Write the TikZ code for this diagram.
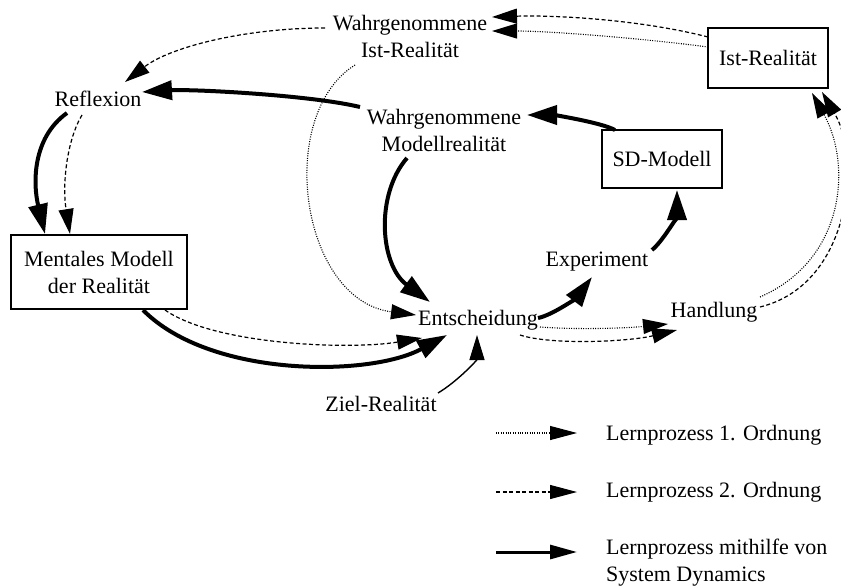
\documentclass[tikz,border=0pt]{standalone}
\usepackage{fontspec}
\setmainfont{Liberation Serif}
\usetikzlibrary{arrows.meta,calc}
\tikzset{
  lbl/.style={font=\fontsize{22}{27}\selectfont, align=center, inner sep=1pt},
  box/.style={lbl, draw, line width=1.2pt, inner sep=0pt},
  thickarr/.style={line width=4pt, -{Triangle[length=30pt,width=19pt]}},
  dasharr/.style={line width=1.2pt, dash pattern=on 4pt off 2.5pt, -{Triangle[length=25pt,width=15pt]}},
  dotarr/.style={line width=1.1pt, dash pattern=on 1pt off 1.4pt, -{Triangle[length=25pt,width=15pt]}},
  thinarr/.style={line width=1.4pt, -{Triangle[length=25pt,width=15pt]}},
  legdot/.style={line width=1.1pt, dash pattern=on 1pt off 1.4pt, -{Triangle[length=27pt,width=14pt]}},
  legdash/.style={line width=1.2pt, dash pattern=on 4pt off 2.5pt, -{Triangle[length=27pt,width=14pt]}},
  legthick/.style={line width=3pt, -{Triangle[length=27pt,width=14pt]}}
}
\begin{document}
\begin{tikzpicture}[x=1pt,y=-1pt]
\useasboundingbox (0,0) rectangle (841,587);
% nodes
\node[lbl] (wist) at (410,36) {Wahrgenommene\\Ist-Realität};
\node[lbl] (refl) at (98,99) {Reflexion};
\node[lbl] (wmod) at (444,130) {Wahrgenommene\\Modellrealität};
\node[box, minimum width=120pt, minimum height=58pt] (sd) at (662,159) {SD-Modell};
\node[box, minimum width=120pt, minimum height=60pt] (ist) at (768,58) {Ist-Realität};
\node[box, minimum width=176pt, minimum height=74pt] (ment) at (99,272) {Mentales Modell\\der Realität};
\node[lbl] (ent) at (478,320) {Entscheidung};
\node[lbl] (exp) at (597,262) {Experiment};
\node[lbl] (hand) at (714,312) {Handlung};
\node[lbl] (ziel) at (381,404) {Ziel-Realität};
% connectors
\draw[dasharr] ($(ist)+(-60,-21)$) .. controls +(-70,-18) and +(60,-2) .. ($(wist)+(82,-19)$);
\draw[dotarr] ($(ist)+(-60,-11)$) .. controls +(-60,-8) and +(60,0) .. ($(wist)+(82,-5)$);
\draw[dasharr] ($(wist)+(-85,-8)$) .. controls +(-80,0) and +(45,-35) .. ($(refl)+(27,-17)$);
\draw[thickarr] ($(wmod)+(-84,-23)$) .. controls +(-50,-12) and +(50,-3) .. ($(refl)+(44,-7)$);
\draw[thickarr] ($(refl)+(-31,14)$) .. controls +(-35,25) and +(-12,-50) .. ($(ment)+(-54,-38)$);
\draw[dasharr] ($(refl)+(-16,16)$) .. controls +(-15,25) and +(-8,-50) .. ($(ment)+(-29,-38)$);
\draw[thickarr] ($(ment)+(44,38)$) .. controls +(67,68) and +(-77,42) .. ($(ent)+(-31,15)$);
\draw[dasharr] ($(ment)+(66,38)$) .. controls +(50,35) and +(-72,12) .. ($(ent)+(-56,18)$);
\draw[dotarr] ($(wist)+(-55,29)$) .. controls +(-80,50) and +(-116,-15) .. ($(ent)+(-62,-5)$);
\draw[thickarr] ($(wmod)+(-37,28)$) .. controls +(-32,37) and +(-50,-37) .. ($(ent)+(-48,-18)$);
\draw[thickarr] ($(ent)+(60,-2)$) .. controls +(15,-3) and +(-15,20) .. ($(exp)+(-5,15)$);
\draw[thickarr] ($(exp)+(55,-12)$) .. controls +(12,-10) and +(0,25) .. ($(sd)+(15,31)$);
\draw[thickarr] ($(sd)+(-47,-29)$) .. controls +(-15,-8) and +(25,0) .. ($(wmod)+(83,-15)$);
\draw[dotarr] ($(ent)+(62,7)$) .. controls +(40,3) and +(-40,4) .. ($(hand)+(-46,12)$);
\draw[dasharr] ($(ent)+(42,15)$) .. controls +(30,10) and +(-50,12) .. ($(hand)+(-37,18)$);
\draw[dotarr] ($(hand)+(46,-15)$) .. controls +(85,-37) and +(40,72) .. ($(ist)+(44,35)$);
\draw[dasharr] ($(hand)+(46,-5)$) .. controls +(90,-22) and +(40,68) .. ($(ist)+(54,34)$);
\draw[thinarr] ($(ziel)+(57,-11)$) .. controls +(20,-12) and +(0,25) .. ($(ent)+(-1,15)$);
% legend
\coordinate (l1a) at (496,433); \coordinate (l1b) at (577,433);
\coordinate (l2a) at (496,492); \coordinate (l2b) at (577,492);
\coordinate (l3a) at (496,552); \coordinate (l3b) at (577,552);
\draw[legdot] (l1a) -- (l1b);
\draw[legdash] (l2a) -- (l2b);
\draw[legthick] (l3a) -- (l3b);
\node[lbl, anchor=west] (t1) at (605,435) {Lernprozess 1. Ordnung};
\node[lbl, anchor=west] (t2) at (605,492) {Lernprozess 2. Ordnung};
\node[lbl, anchor=west, align=left] (t3) at (605,563) {Lernprozess mithilfe von\\System Dynamics};
\end{tikzpicture}
\end{document}
